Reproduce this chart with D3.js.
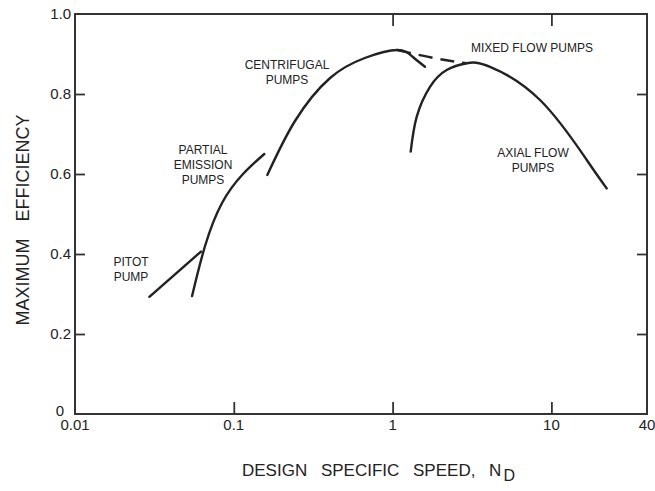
<!DOCTYPE html>
<html><head><meta charset="utf-8">
<script src="https://cdn.jsdelivr.net/npm/d3@7"></script>
<style>
body{margin:0;background:#fff;}
svg{display:block;}
text{font-family:"Liberation Sans",Arial,Helvetica,sans-serif;fill:#222;}
</style></head>
<body>
<svg id="c" width="655" height="491"></svg>
<script>
// ---- data (x = design specific speed N_D, y = maximum efficiency) ----
const pitotX = [0.0294, 0.0621];
const pitotY = [0.293, 0.406];
const partialX = [0.0546, 0.0659, 0.0843, 0.1143, 0.1556];
const partialY = [0.295, 0.42, 0.5275, 0.60, 0.65];
const centrifugalX = [0.1626, 0.2428, 0.404, 0.668, 1.07, 1.344, 1.60];
const centrifugalY = [0.5975, 0.7325, 0.84, 0.89, 0.91, 0.8925, 0.868];
const dashedX = [1.07, 1.488, 2.138, 2.929];
const dashedY = [0.91, 0.897, 0.885, 0.877];
const axialX = [1.30, 1.418, 1.72, 2.19, 2.93, 4.106, 8.48, 16.7, 22.3];
const axialY = [0.656, 0.743, 0.818, 0.86, 0.877, 0.868, 0.785, 0.635, 0.564];
const xTicks = [0.01, 0.1, 1, 10, 40];
const xTickLabels = ["0.01", "0.1", "1", "10", "40"];
const yTicks = [0, 0.2, 0.4, 0.6, 0.8, 1.0];
const yTickLabels = ["0", "0.2", "0.4", "0.6", "0.8", "1.0"];

const svg = d3.select("#c");
const L = 75, R = 647, T = 14, B = 414;
const x = d3.scaleLog().domain([0.01, 40]).range([L, R]);
const y = d3.scaleLinear().domain([0, 1]).range([B, T]);
const ink = "#222";

// frame
svg.append("rect").attr("x", L).attr("y", T).attr("width", R - L).attr("height", B - T)
  .attr("fill", "none").attr("stroke", "#333").attr("stroke-width", 2);

// inner ticks
const innerY = [0.2, 0.4, 0.6, 0.8];
const innerX = [0.1, 1, 10];
svg.append("g").attr("transform", `translate(${L},0)`)
  .call(d3.axisRight(y).tickValues(innerY).tickSize(10).tickFormat(""))
  .call(g => g.select(".domain").remove());
svg.append("g").attr("transform", `translate(${R},0)`)
  .call(d3.axisLeft(y).tickValues(innerY).tickSize(10).tickFormat(""))
  .call(g => g.select(".domain").remove());
svg.append("g").attr("transform", `translate(0,${B})`)
  .call(d3.axisTop(x).tickValues(innerX).tickSize(12).tickFormat(""))
  .call(g => g.select(".domain").remove());
svg.append("g").attr("transform", `translate(0,${T})`)
  .call(d3.axisBottom(x).tickValues([1, 10]).tickSize(12).tickFormat(""))
  .call(g => g.select(".domain").remove());
svg.selectAll(".tick line").attr("stroke", "#333").attr("stroke-width", 1.8);

// tick labels
svg.append("g").selectAll("text").data(xTicks).join("text")
  .attr("x", d => x(d)).attr("y", 430)
  .attr("text-anchor", "middle").attr("font-size", 15)
  .text((d, i) => xTickLabels[i]);
svg.append("g").selectAll("text").data(yTicks).join("text")
  .attr("x", d => d === 0 ? 64 : 71).attr("y", d => y(d) + (d === 0 ? -3 : 0)).attr("dy", "0.36em")
  .attr("text-anchor", "end").attr("font-size", 15)
  .text((d, i) => yTickLabels[i]);

// axis titles
const xt = svg.append("text").attr("x", 242).attr("y", 476).attr("font-size", 17)
  .attr("word-spacing", 9);
xt.append("tspan").text("DESIGN SPECIFIC SPEED, N");
xt.append("tspan").attr("dy", 5).attr("font-size", 16).attr("dx", 2).text("D");
svg.append("text").attr("transform", "translate(29,220) rotate(-90)")
  .attr("text-anchor", "middle").attr("font-size", 18).attr("word-spacing", 12)
  .text("MAXIMUM EFFICIENCY");

// curves
const line = d3.line().x(d => x(d[0])).y(d => y(d[1])).curve(d3.curveNatural);
function draw(xs, ys, dash) {
  svg.append("path").datum(xs.map((v, i) => [v, ys[i]]))
    .attr("d", line).attr("fill", "none").attr("stroke", ink)
    .attr("stroke-width", 2.4).attr("stroke-linecap", dash ? "butt" : "round")
    .attr("stroke-dasharray", dash || null);
}
draw(pitotX, pitotY);
draw(partialX, partialY);
draw(centrifugalX, centrifugalY);
draw(dashedX, dashedY, "14,8");
draw(axialX, axialY);

// annotations
function label(cx, ys, lines) {
  lines.forEach((t, i) => svg.append("text").attr("x", cx).attr("y", ys + i * 15)
    .attr("text-anchor", "middle").attr("font-size", 12).attr("dy", "0.35em").text(t));
}
label(131, 262, ["PITOT", "PUMP"]);
label(203, 150, ["PARTIAL", "EMISSION", "PUMPS"]);
label(287, 65, ["CENTRIFUGAL", "PUMPS"]);
label(532, 48, ["MIXED FLOW PUMPS"]);
label(533, 153, ["AXIAL FLOW", "PUMPS"]);
</script>
</body></html>
